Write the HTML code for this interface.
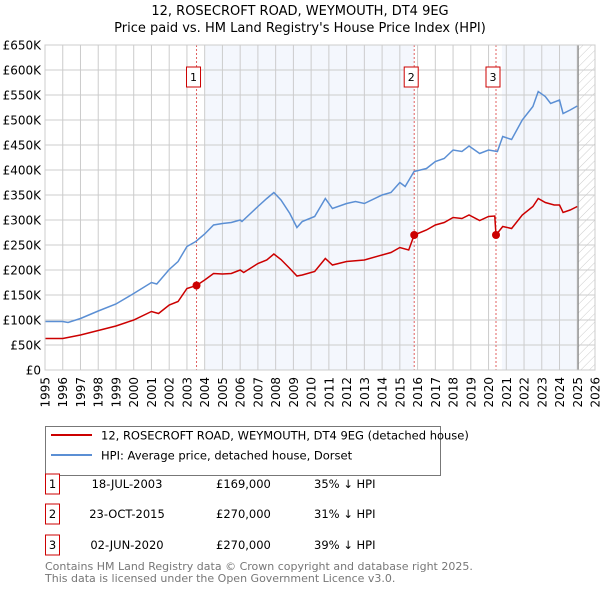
<!DOCTYPE html>
<html><head><meta charset="utf-8"><style>
body{margin:0;background:#fff;font-family:"Liberation Sans","DejaVu Sans",sans-serif;}
svg text{font-family:"DejaVu Sans","Liberation Sans",sans-serif;}
</style></head><body>
<svg id="chart" width="600" height="590" viewBox="0 0 600 590" xmlns="http://www.w3.org/2000/svg">
<defs><pattern id="hatch" width="6" height="6" patternUnits="userSpaceOnUse" patternTransform="rotate(45)"><line x1="0" y1="0" x2="0" y2="6" stroke="#ccc" stroke-width="1"/></pattern></defs>
<text x="300" y="15" text-anchor="middle" font-size="13">12, ROSECROFT ROAD, WEYMOUTH, DT4 9EG</text>
<text x="300" y="32" text-anchor="middle" font-size="13">Price paid vs. HM Land Registry's House Price Index (HPI)</text>
<g id="plot"></g>
<g>
<rect x="45.5" y="426.5" width="395" height="49" fill="#fff" stroke="#777"/>
<line x1="51" y1="435" x2="92" y2="435" stroke="#cc0000" stroke-width="2"/>
<text x="101" y="439.5" font-size="11.5">12, ROSECROFT ROAD, WEYMOUTH, DT4 9EG (detached house)</text>
<line x1="51" y1="455" x2="92" y2="455" stroke="#5b8fd4" stroke-width="2"/>
<text x="101" y="459.5" font-size="11.5">HPI: Average price, detached house, Dorset</text>
</g>
<g font-size="11.5">
<rect x="45.5" y="474" width="14" height="20" fill="#fff" stroke="#cc0000"/><text x="52.5" y="488" text-anchor="middle">1</text>
<text x="127" y="488" text-anchor="middle">18-JUL-2003</text><text x="216" y="488">£169,000</text><text x="314" y="488">35% ↓ HPI</text>
<rect x="45.5" y="504" width="14" height="20" fill="#fff" stroke="#cc0000"/><text x="52.5" y="518" text-anchor="middle">2</text>
<text x="127" y="518" text-anchor="middle">23-OCT-2015</text><text x="216" y="518">£270,000</text><text x="314" y="518">31% ↓ HPI</text>
<rect x="45.5" y="535" width="14" height="20" fill="#fff" stroke="#cc0000"/><text x="52.5" y="549" text-anchor="middle">3</text>
<text x="127" y="549" text-anchor="middle">02-JUN-2020</text><text x="216" y="549">£270,000</text><text x="314" y="549">39% ↓ HPI</text>
</g>
<text x="45" y="570" font-size="11" fill="#777">Contains HM Land Registry data © Crown copyright and database right 2025.</text>
<text x="45" y="582" font-size="11" fill="#777">This data is licensed under the Open Government Licence v3.0.</text>
</svg>
<script>
const yTicks=[0,50,100,150,200,250,300,350,400,450,500,550,600,650];
const yTickLabels=["£0","£50K","£100K","£150K","£200K","£250K","£300K","£350K","£400K","£450K","£500K","£550K","£600K","£650K"];
const xYears=[1995,1996,1997,1998,1999,2000,2001,2002,2003,2004,2005,2006,2007,2008,2009,2010,2011,2012,2013,2014,2015,2016,2017,2018,2019,2020,2021,2022,2023,2024,2025,2026];
const hpiT=[1995,1996,1996.3,1997,1998,1999,2000,2001,2001.3,2002,2002.5,2003,2003.5,2004,2004.5,2005,2005.5,2006,2006.1,2007,2007.5,2007.9,2008.3,2008.8,2009.2,2009.5,2010.2,2010.8,2011.2,2012,2012.5,2013,2014,2014.5,2015,2015.3,2015.8,2016.5,2017,2017.5,2018,2018.5,2018.9,2019.5,2020,2020.5,2020.8,2021.3,2021.9,2022.5,2022.8,2023.2,2023.5,2024,2024.2,2024.6,2025];
const hpiV=[97,97,95,103,118,132,153,175,172,201,217,247,257,272,290,293,295,300,297,327,343,355,340,313,285,297,307,343,323,333,337,333,350,355,375,367,397,403,417,423,440,437,448,433,440,437,467,461,500,527,557,547,533,540,513,520,528];
const ppT=[1995,1996,1997,1998,1999,2000,2001,2001.4,2002,2002.5,2003,2003.54,2004,2004.5,2005,2005.5,2006,2006.2,2007,2007.5,2007.9,2008.3,2008.8,2009.2,2009.5,2010.2,2010.8,2011.2,2012,2013,2014,2014.5,2015,2015.5,2015.81,2016.5,2017,2017.5,2018,2018.5,2018.9,2019.5,2020,2020.35,2020.42,2020.8,2021.3,2021.9,2022.5,2022.8,2023.2,2023.7,2024,2024.2,2024.6,2025];
const ppV=[63,63,70,79,88,100,117,113,130,137,163,169,180,193,192,193,200,195,213,220,232,221,203,188,190,197,223,210,217,220,230,235,245,240,270,280,290,295,305,303,310,299,307,308,270,287,283,310,327,343,335,330,330,315,320,327];
const saleT=[2003.54,2015.81,2020.42];
const saleV=[169,270,270];
const saleLabels=["1","2","3"];
const X0=45,X1=595,Y0=370,Y1=45;
const xs=t=>X0+(t-1995)/(2026-1995)*(X1-X0);
const ys=v=>Y0-v/650*(Y0-Y1);
const NS="http://www.w3.org/2000/svg";
const g=document.getElementById('plot');
function mk(tag,at){const e=document.createElementNS(NS,tag);for(const k in at)e.setAttribute(k,at[k]);g.appendChild(e);return e;}
let e;
e=mk('rect',{x:xs(2004),y:Y1,width:xs(2015.81)-xs(2004),height:Y0-Y1,fill:'#f4f7fd'});


e=mk('rect',{x:xs(2020.75),y:Y1,width:xs(2025.05)-xs(2020.75),height:Y0-Y1,fill:'#f4f7fd'});


e=mk('rect',{x:xs(2025.05),y:Y1,width:X1-xs(2025.05),height:Y0-Y1,fill:'url(#hatch)'});


yTicks.forEach((v,i)=>{
 e=mk('line',{x1:X0,x2:X1,y1:ys(v),y2:ys(v),stroke:'#ccc','stroke-width':1});
 
 
 e=mk('text',{x:41,y:ys(v)+4.5,'text-anchor':'end','font-size':12});
 e.textContent=yTickLabels[i];
 
 
});
xYears.forEach(yr=>{
 e=mk('line',{x1:xs(yr),x2:xs(yr),y1:Y1,y2:Y0,stroke:'#ccc','stroke-width':1});
 
 
 e=mk('text',{x:0,y:0,'text-anchor':'end','font-size':12,transform:`translate(${xs(yr)+4.5},377) rotate(-90)`});
 e.textContent=yr;
 
 
});
e=mk('line',{x1:xs(2025.05),x2:xs(2025.05),y1:Y1,y2:Y0,stroke:'#888','stroke-width':1.2});


saleT.forEach((t,i)=>{
 e=mk('line',{x1:xs(t),x2:xs(t),y1:Y1,y2:Y0,stroke:'#e06060','stroke-width':1,'stroke-dasharray':'2,2'});
 
 
 e=mk('rect',{x:xs(t)-10,y:67,width:14,height:20,fill:'#fff',stroke:'#cc0000'});
 
 
 e=mk('text',{x:xs(t)-3,y:81,'text-anchor':'middle','font-size':11});
 e.textContent=saleLabels[i];
 
 
});
e=mk('polyline',{points:hpiT.map((t,i)=>xs(t)+','+ys(hpiV[i])).join(' '),fill:'none',stroke:'#5b8fd4','stroke-width':1.5});


e=mk('polyline',{points:ppT.map((t,i)=>xs(t)+','+ys(ppV[i])).join(' '),fill:'none',stroke:'#cc0000','stroke-width':1.5});


saleT.forEach((t,i)=>{
 e=mk('circle',{cx:xs(t),cy:ys(saleV[i]),r:4,fill:'#cc0000'});
 
 
});
e=mk('rect',{x:X0,y:Y1,width:X1-X0,height:Y0-Y1,fill:'none',stroke:'#ccc'});


</script>
</body></html>
